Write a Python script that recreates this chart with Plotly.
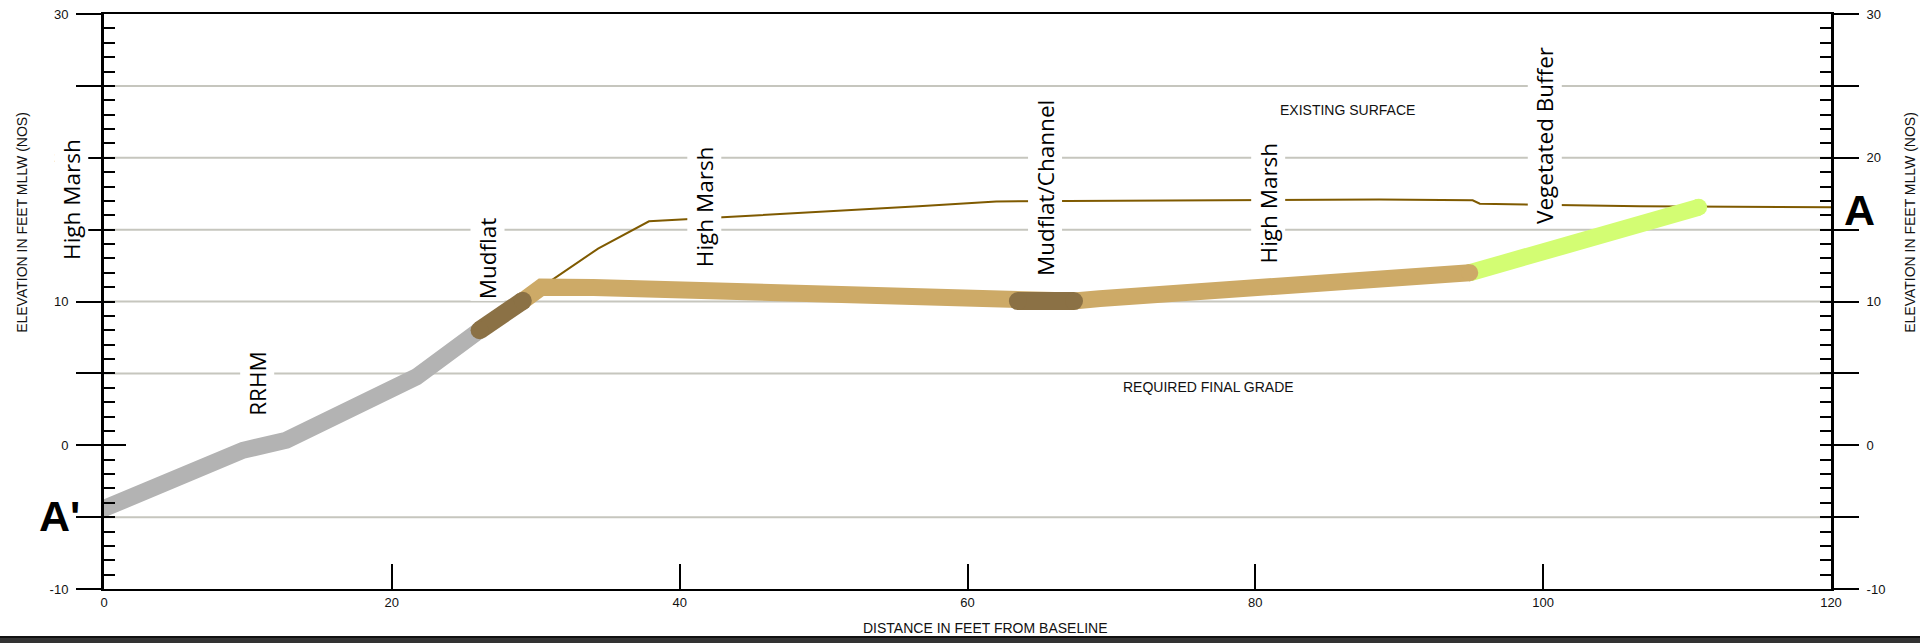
import plotly.graph_objects as go

# ---------------- data (feet) ----------------
DIST_RRHM = [0, 9.66, 12.67, 17.07, 21.7, 26.1]
ELEV_RRHM = [-4.4, -0.35, 0.35, 2.43, 4.75, 8.0]

DIST_MUDFLAT = [26.1, 29.1]
ELEV_MUDFLAT = [8.0, 10.05]

DIST_GRADE = [29.1, 30.4, 34.0, 63.5, 67.4, 69.2, 80.5, 94.9]
ELEV_GRADE = [10.05, 11.0, 10.97, 10.03, 10.03, 10.2, 11.0, 12.0]

DIST_CHANNEL = [63.5, 67.4]
ELEV_CHANNEL = [10.03, 10.03]

DIST_BUFFER = [94.9, 110.8]
ELEV_BUFFER = [12.0, 16.55]

DIST_EXIST = [30.4, 34.33, 37.87, 41.17, 44.18, 50.0, 56.6, 62.0, 74.7, 88.6, 95.1, 95.6, 106.7, 120]
ELEV_EXIST = [11.0, 13.68, 15.58, 15.76, 15.95, 16.27, 16.62, 16.96, 17.04, 17.1, 17.04, 16.8, 16.62, 16.55]

ZONE_LABELS = ["High Marsh", "RRHM", "Mudflat", "High Marsh", "Mudflat/Channel", "High Marsh", "Vegetated Buffer"]
ZONE_X = [-2.27, 10.65, 26.66, 41.69, 65.37, 80.92, 100.1]
ZONE_Y = [17.09, 4.29, 12.98, 16.63, 17.88, 16.86, 21.56]

NOTE_LABELS = ["EXISTING SURFACE", "REQUIRED FINAL GRADE"]
NOTE_X = [86.37, 76.75]
NOTE_Y = [23.35, 4.05]

SECTION_LABELS = ["A'", "A"]
SECTION_X = [-1.55, 120.74]
SECTION_Y = [-4.94, 16.4]
SECTION_ANCHOR = ["right", "left"]

X_RANGE = [0, 120]
Y_RANGE = [-10, 30]
X_TICKS = [0, 20, 40, 60, 80, 100, 120]
Y_TICKS = [-10, -5, 0, 5, 10, 15, 20, 25, 30]
Y_TICKTEXT = ["-10", "", "0", "", "10", "", "20", "", "30"]
DATUM_TICK = [0]
GRID_Y = [-5, 5, 10, 15, 20, 25]

X_TITLE = "DISTANCE IN FEET FROM BASELINE"
Y_TITLE = "ELEVATION IN FEET MLLW (NOS)"

# ---------------- styles ----------------
SANS = "Liberation Sans, Arial, sans-serif"
LABEL_FONT = "Open Sans, Noto Sans, sans-serif"
COND_BOLD = "Liberation Sans Narrow, Arial Narrow, Liberation Sans, Arial, sans-serif"

fig = go.Figure()


def thick(xs, ys, color, width):
    fig.add_trace(go.Scatter(x=xs, y=ys, mode="lines",
                             line=dict(color=color, width=width),
                             hoverinfo="skip", showlegend=False))
    # round caps at both ends
    fig.add_trace(go.Scatter(x=[xs[0], xs[-1]], y=[ys[0], ys[-1]], mode="markers",
                             marker=dict(color=color, size=width, line=dict(width=0)),
                             hoverinfo="skip", showlegend=False))


# existing surface (thin, underneath)
fig.add_trace(go.Scatter(x=DIST_EXIST, y=ELEV_EXIST, mode="lines",
                         line=dict(color="#7f5a00", width=2),
                         hoverinfo="skip", showlegend=False))

thick(DIST_RRHM, ELEV_RRHM, "#b3b3b3", 17)
thick(DIST_BUFFER, ELEV_BUFFER, "#d3fd73", 17)
thick(DIST_GRADE, ELEV_GRADE, "#cdaa67", 17)
thick(DIST_MUDFLAT, ELEV_MUDFLAT, "#8b7145", 18)
thick(DIST_CHANNEL, ELEV_CHANNEL, "#8b7145", 18)

# empty traces to register overlay axes
for ax in ["y2", "y3", "y4", "y5"]:
    fig.add_trace(go.Scatter(x=[], y=[], yaxis=ax, showlegend=False, hoverinfo="skip"))


def xpos(x):
    """data x -> (xref, x); out-of-range positions use paper coordinates"""
    if X_RANGE[0] <= x <= X_RANGE[1]:
        return "x", x
    return "paper", (x - X_RANGE[0]) / (X_RANGE[1] - X_RANGE[0])


annotations = []
for t, x, y in zip(ZONE_LABELS, ZONE_X, ZONE_Y):
    xr, xv = xpos(x)
    annotations.append(dict(text=t, x=xv, y=y, xref=xr, yref="y", showarrow=False,
                            xanchor="center", yanchor="middle",
                            textangle=-90, bgcolor="white", borderpad=1,
                            font=dict(family=LABEL_FONT, size=22.5, color="black")))
for t, x, y in zip(NOTE_LABELS, NOTE_X, NOTE_Y):
    xr, xv = xpos(x)
    annotations.append(dict(text=t, x=xv, y=y, xref=xr, yref="y", showarrow=False,
                            xanchor="center", yanchor="middle",
                            font=dict(family=SANS, size=14, color="#111")))
for t, x, y, anc in zip(SECTION_LABELS, SECTION_X, SECTION_Y, SECTION_ANCHOR):
    xr, xv = xpos(x)
    annotations.append(dict(text="<b>" + t + "</b>", x=xv, y=y, xref=xr, yref="y",
                            xanchor=anc, yanchor="middle", showarrow=False,
                            font=dict(family=COND_BOLD, size=43, color="black")))
annotations += [
    dict(text=X_TITLE, x=0.5105, y=-0.0685, xref="paper", yref="paper", showarrow=False,
         xanchor="center", yanchor="middle", font=dict(family=SANS, size=14, color="#111")),
    dict(text=Y_TITLE, x=-0.0474, y=0.637, xref="paper", yref="paper", showarrow=False,
         xanchor="center", yanchor="middle",
         textangle=-90, font=dict(family=SANS, size=14, color="#111")),
    dict(text=Y_TITLE, x=1.0458, y=0.637, xref="paper", yref="paper", showarrow=False,
         xanchor="center", yanchor="middle",
         textangle=-90, font=dict(family=SANS, size=14, color="#111")),
]

shapes = [dict(type="line", xref="paper", x0=0, x1=1, yref="y", y0=g, y1=g,
               line=dict(color="#c6c6be", width=2), layer="below") for g in GRID_Y]
shapes.append(dict(type="rect", xref="paper", x0=-0.1, x1=1.1, yref="paper",
                   y0=-0.2, y1=-0.0835, fillcolor="#333333", line=dict(color="#111", width=2)))

major_y = dict(range=Y_RANGE, tickmode="array", tickvals=Y_TICKS, ticktext=Y_TICKTEXT,
               ticks="outside", ticklen=25, tickwidth=2, tickcolor="black",
               showline=True, linewidth=3, linecolor="black", showgrid=False, zeroline=False,
               automargin=False,
               tickfont=dict(family=SANS, size=13, color="#111"), ticklabelstandoff=5)
inner_y = dict(range=Y_RANGE, tickmode="linear", tick0=0, dtick=1,
               ticks="inside", ticklen=11, tickwidth=2, tickcolor="black",
               showline=False, showgrid=False, zeroline=False, showticklabels=False,
               automargin=False)
datum_y = dict(range=Y_RANGE, tickmode="array", tickvals=DATUM_TICK,
               ticks="inside", ticklen=22, tickwidth=2, tickcolor="black",
               showline=False, showgrid=False, zeroline=False, showticklabels=False,
               automargin=False)

fig.update_layout(
    template="none",
    width=1920, height=643,
    margin=dict(l=104, r=89, t=14, b=54, autoexpand=False),
    paper_bgcolor="white", plot_bgcolor="white",
    showlegend=False,
    xaxis=dict(range=X_RANGE, tickmode="array", tickvals=X_TICKS,
               ticks="inside", ticklen=25, tickwidth=2, tickcolor="black",
               showline=True, linewidth=2, linecolor="black", mirror=True,
               showgrid=False, zeroline=False, automargin=False,
               tickfont=dict(family=SANS, size=13, color="#111")),
    yaxis=dict(side="left", **major_y),
    yaxis2=dict(side="right", overlaying="y", anchor="x", **major_y),
    yaxis3=dict(side="left", overlaying="y", anchor="x", **inner_y),
    yaxis4=dict(side="right", overlaying="y", anchor="x", **inner_y),
    yaxis5=dict(side="left", overlaying="y", anchor="x", **datum_y),
    annotations=annotations,
    shapes=shapes,
)

fig.write_html("out.html",
               config={"displayModeBar": False},
               post_script="document.documentElement.style.margin='0';"
                           "document.body.style.margin='0';"
                           "document.body.style.overflow='hidden';")
